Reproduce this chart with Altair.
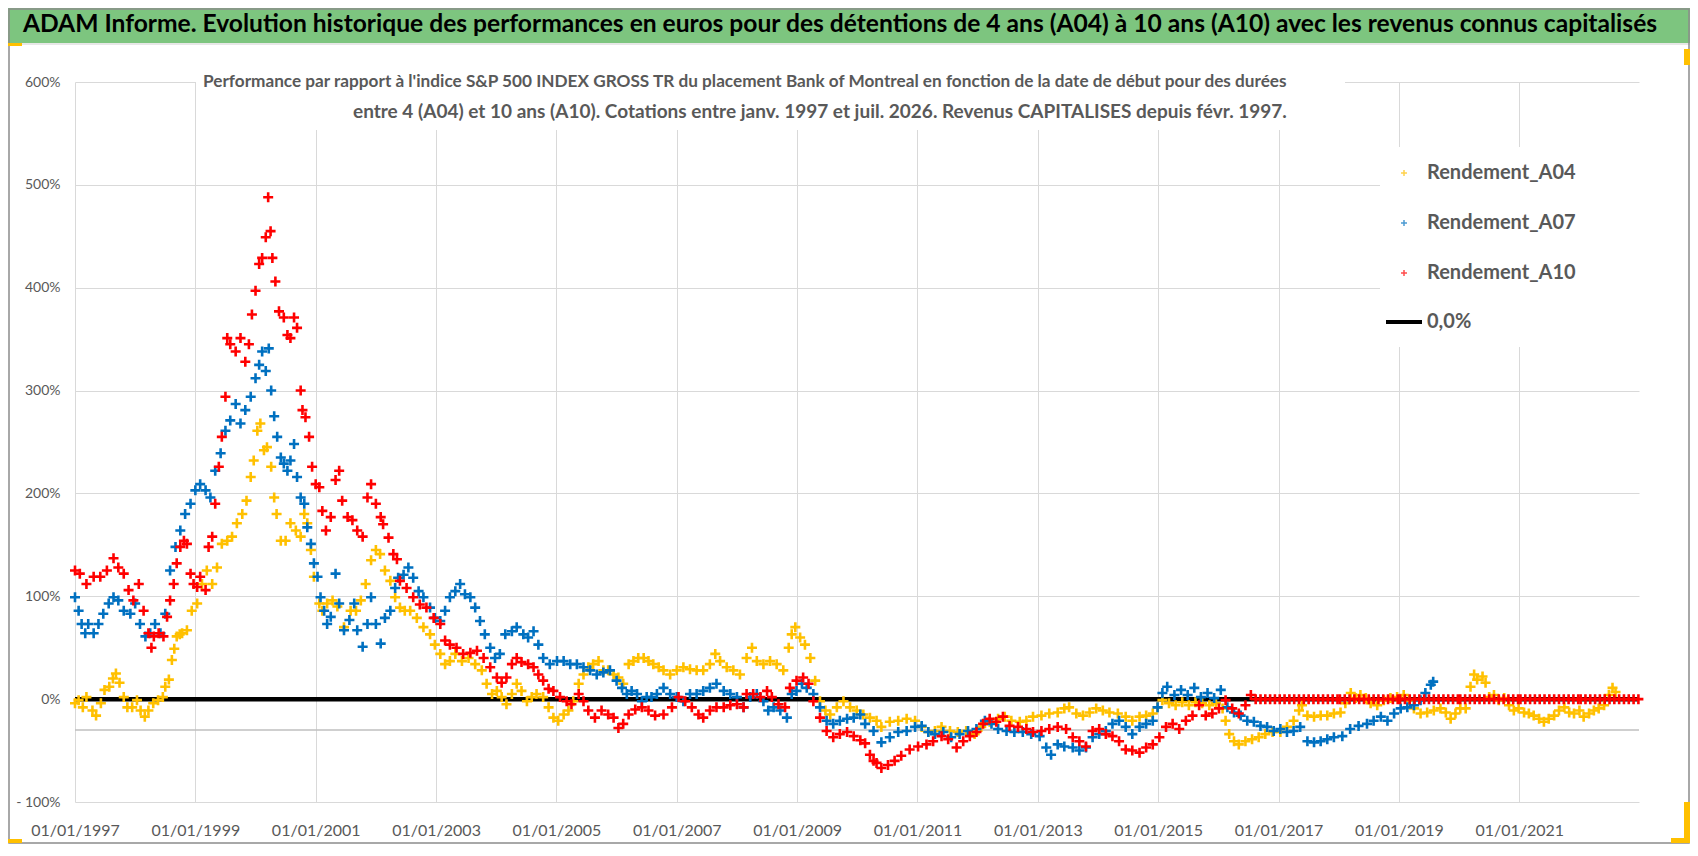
import pandas as pd
import altair as alt

# Valeurs : (année décimale, performance en %)
a04 = [(1997.00, -4), (1997.06, -1), (1997.13, -8), (1997.19, 2), (1997.29, -11), (1997.35, -16), (1997.43, -4),
       (1997.49, 9), (1997.57, 12), (1997.63, 20), (1997.68, 25), (1997.74, 16), (1997.81, 2), (1997.87, -8),
       (1997.95, -8), (1998.03, -1), (1998.09, -11), (1998.16, -17), (1998.22, -11), (1998.30, -4), (1998.38, -1),
       (1998.46, 2), (1998.50, 12), (1998.56, 19), (1998.61, 38), (1998.65, 49), (1998.69, 61), (1998.74, 63),
       (1998.78, 64), (1998.86, 67), (1998.94, 86), (1999.03, 93), (1999.11, 112), (1999.19, 125), (1999.28, 112),
       (1999.36, 128), (1999.44, 151), (1999.53, 154), (1999.61, 158), (1999.69, 171), (1999.78, 180), (1999.85, 193),
       (1999.92, 216), (1999.97, 232), (2000.03, 261), (2000.08, 268), (2000.14, 242), (2000.19, 245), (2000.26, 226),
       (2000.31, 196), (2000.35, 180), (2000.42, 154), (2000.50, 154), (2000.58, 171), (2000.67, 164), (2000.75, 158),
       (2000.81, 180), (2000.86, 171), (2000.92, 145), (2000.97, 119), (2001.06, 93), (2001.11, 86), (2001.19, 93),
       (2001.28, 96), (2001.36, 90), (2001.47, 70), (2001.58, 86), (2001.67, 86), (2001.75, 96), (2001.83, 112),
       (2001.92, 135), (2002.00, 145), (2002.07, 141), (2002.15, 125), (2002.24, 115), (2002.32, 99), (2002.40, 89),
       (2002.48, 86), (2002.57, 86), (2002.68, 79), (2002.79, 70), (2002.90, 63), (2002.98, 53), (2003.07, 44),
       (2003.15, 34), (2003.23, 37), (2003.32, 44), (2003.43, 37), (2003.54, 40), (2003.65, 34), (2003.76, 28),
       (2003.84, 15), (2003.93, 5), (2004.01, 8), (2004.09, 2), (2004.17, -5), (2004.26, 5), (2004.34, 15),
       (2004.42, 8), (2004.51, -2), (2004.59, 2), (2004.67, 5), (2004.78, 2), (2004.87, -8), (2004.95, -18),
       (2005.03, -21), (2005.12, -15), (2005.20, -11), (2005.28, -2), (2005.37, 15), (2005.45, 24), (2005.53, 31),
       (2005.61, 34), (2005.70, 37), (2005.78, 28), (2005.86, 28), (2005.95, 24), (2006.03, 21), (2006.11, 15),
       (2006.20, 34), (2006.28, 37), (2006.36, 40), (2006.45, 40), (2006.53, 37), (2006.61, 34), (2006.70, 31),
       (2006.78, 28), (2006.89, 24), (2007.00, 28), (2007.11, 31), (2007.22, 29), (2007.33, 28), (2007.44, 28),
       (2007.55, 34), (2007.64, 44), (2007.72, 37), (2007.83, 31), (2007.94, 28), (2008.05, 24), (2008.16, 40),
       (2008.25, 50), (2008.33, 37), (2008.44, 34), (2008.55, 37), (2008.66, 34), (2008.77, 28), (2008.86, 50),
       (2008.91, 63), (2008.97, 70), (2009.05, 60), (2009.13, 53), (2009.22, 40), (2009.30, 18), (2009.38, -2),
       (2009.47, -11), (2009.55, -15), (2009.66, -8), (2009.77, -2), (2009.88, -8), (2009.99, -11), (2010.10, -15),
       (2010.21, -18), (2010.32, -21), (2010.40, -27), (2010.54, -22), (2010.68, -21), (2010.82, -19), (2010.96, -21),
       (2011.07, -27), (2011.18, -32), (2011.29, -31), (2011.40, -27), (2011.54, -31), (2011.67, -32), (2011.81, -31),
       (2011.95, -34), (2012.06, -27), (2012.20, -22), (2012.34, -19), (2012.45, -17), (2012.56, -21), (2012.70, -22),
       (2012.81, -21), (2012.92, -17), (2013.06, -16), (2013.19, -14), (2013.33, -13), (2013.44, -9), (2013.52, -8),
       (2013.64, -14), (2013.75, -16), (2013.86, -13), (2013.97, -9), (2014.08, -11), (2014.19, -13), (2014.33, -14),
       (2014.46, -17), (2014.57, -21), (2014.69, -17), (2014.80, -16), (2014.91, -14), (2014.99, -8), (2015.07, -1),
       (2015.18, -4), (2015.29, -6), (2015.40, -3), (2015.51, -6), (2015.62, -3), (2015.73, -4), (2015.85, -6),
       (2015.96, -4), (2016.07, -9), (2016.12, -21), (2016.18, -34), (2016.26, -41), (2016.34, -44), (2016.45, -41),
       (2016.56, -39), (2016.67, -37), (2016.78, -34), (2016.90, -32), (2017.03, -32), (2017.14, -27), (2017.25, -21),
       (2017.34, -11), (2017.39, -6), (2017.48, -16), (2017.59, -17), (2017.70, -16), (2017.81, -16), (2017.92, -14),
       (2018.03, -13), (2018.11, -4), (2018.20, 6), (2018.28, 1), (2018.36, 4), (2018.45, 1), (2018.53, -4),
       (2018.64, -6), (2018.75, -1), (2018.86, 1), (2018.97, 2), (2019.08, 4), (2019.17, -1), (2019.25, -9),
       (2019.36, -14), (2019.47, -13), (2019.58, -11), (2019.69, -9), (2019.78, -13), (2019.86, -19), (2019.94, -14),
       (2020.02, -9), (2020.11, -9), (2020.19, 12), (2020.25, 24), (2020.30, 19), (2020.39, 22), (2020.44, 16),
       (2020.50, 2), (2020.58, 4), (2020.66, -1), (2020.75, 1), (2020.83, -6), (2020.91, -11), (2020.99, -9),
       (2021.08, -13), (2021.16, -14), (2021.24, -16), (2021.33, -19), (2021.41, -22), (2021.49, -19), (2021.58, -16),
       (2021.66, -11), (2021.75, -8), (2021.83, -13), (2021.91, -14), (2022.00, -11), (2022.07, -17), (2022.16, -14),
       (2022.24, -11), (2022.32, -9), (2022.41, -6), (2022.49, 4), (2022.55, 11), (2022.60, 7)]

a07 = [(1997.00, 99), (1997.06, 86), (1997.11, 73), (1997.17, 64), (1997.22, 73), (1997.31, 64), (1997.39, 73),
       (1997.47, 83), (1997.56, 93), (1997.64, 99), (1997.72, 96), (1997.81, 86), (1997.92, 83), (1998.00, 93),
       (1998.08, 73), (1998.17, 61), (1998.25, 64), (1998.33, 73), (1998.42, 64), (1998.50, 83), (1998.58, 125),
       (1998.67, 148), (1998.75, 164), (1998.83, 180), (1998.92, 190), (1999.00, 203), (1999.08, 209), (1999.17, 203),
       (1999.25, 196), (1999.33, 222), (1999.42, 239), (1999.50, 261), (1999.58, 271), (1999.67, 287), (1999.75, 268),
       (1999.83, 281), (1999.92, 294), (2000.00, 312), (2000.06, 325), (2000.11, 338), (2000.17, 319), (2000.22, 341),
       (2000.26, 300), (2000.31, 275), (2000.36, 255), (2000.42, 235), (2000.47, 229), (2000.53, 222), (2000.58, 232),
       (2000.64, 248), (2000.69, 216), (2000.75, 196), (2000.81, 190), (2000.86, 167), (2000.92, 151), (2000.97, 132),
       (2001.03, 119), (2001.08, 99), (2001.14, 86), (2001.19, 73), (2001.25, 80), (2001.33, 122), (2001.39, 93),
       (2001.47, 67), (2001.56, 77), (2001.64, 93), (2001.69, 67), (2001.78, 51), (2001.86, 73), (2001.92, 99),
       (2002.00, 73), (2002.08, 54), (2002.15, 79), (2002.24, 86), (2002.32, 108), (2002.37, 118), (2002.46, 121),
       (2002.54, 128), (2002.62, 118), (2002.71, 105), (2002.79, 99), (2002.90, 89), (2002.98, 79), (2003.07, 76),
       (2003.15, 86), (2003.23, 99), (2003.32, 105), (2003.40, 112), (2003.48, 102), (2003.57, 99), (2003.65, 89),
       (2003.73, 76), (2003.81, 63), (2003.90, 50), (2003.98, 40), (2004.06, 44), (2004.15, 63), (2004.26, 66),
       (2004.34, 70), (2004.45, 63), (2004.53, 60), (2004.62, 66), (2004.70, 53), (2004.78, 40), (2004.89, 34),
       (2005.01, 37), (2005.12, 37), (2005.23, 34), (2005.34, 34), (2005.45, 31), (2005.56, 28), (2005.67, 24),
       (2005.78, 26), (2005.89, 28), (2006.00, 18), (2006.09, 11), (2006.17, 5), (2006.25, 8), (2006.34, 5),
       (2006.42, -2), (2006.50, 2), (2006.58, 2), (2006.67, 5), (2006.78, 11), (2006.89, 5), (2007.00, 2),
       (2007.11, -2), (2007.22, 5), (2007.33, 5), (2007.44, 8), (2007.55, 11), (2007.66, 15), (2007.78, 8),
       (2007.89, 5), (2008.00, 2), (2008.11, -8), (2008.22, 2), (2008.33, 5), (2008.44, -2), (2008.52, -11),
       (2008.61, -8), (2008.72, -11), (2008.83, -18), (2008.91, 5), (2008.99, 8), (2009.08, 15), (2009.16, 11),
       (2009.27, 5), (2009.38, -8), (2009.49, -21), (2009.60, -24), (2009.71, -21), (2009.83, -19), (2009.94, -18),
       (2010.05, -15), (2010.13, -24), (2010.27, -31), (2010.40, -42), (2010.54, -37), (2010.68, -32), (2010.82, -31),
       (2010.96, -27), (2011.07, -26), (2011.18, -32), (2011.29, -34), (2011.43, -32), (2011.56, -37), (2011.70, -34),
       (2011.84, -31), (2011.98, -29), (2012.12, -21), (2012.23, -24), (2012.34, -29), (2012.48, -31), (2012.61, -32),
       (2012.75, -32), (2012.89, -34), (2013.03, -36), (2013.14, -47), (2013.22, -54), (2013.33, -44), (2013.44, -46),
       (2013.58, -47), (2013.69, -50), (2013.80, -47), (2013.91, -37), (2014.02, -34), (2014.13, -31), (2014.24, -24),
       (2014.35, -21), (2014.46, -27), (2014.57, -34), (2014.69, -27), (2014.80, -24), (2014.91, -21), (2014.99, -8),
       (2015.07, 6), (2015.15, 12), (2015.27, 4), (2015.38, 9), (2015.49, 4), (2015.60, 11), (2015.71, 2),
       (2015.82, 6), (2015.93, 1), (2016.04, 9), (2016.15, -8), (2016.26, -13), (2016.37, -16), (2016.48, -21),
       (2016.59, -22), (2016.70, -26), (2016.81, -27), (2016.92, -31), (2017.03, -29), (2017.14, -32), (2017.25, -31),
       (2017.36, -27), (2017.48, -41), (2017.59, -42), (2017.70, -41), (2017.81, -39), (2017.92, -37), (2018.06, -36),
       (2018.19, -29), (2018.33, -26), (2018.47, -24), (2018.58, -21), (2018.70, -17), (2018.81, -21), (2018.92, -14),
       (2019.03, -9), (2019.14, -8), (2019.25, -6), (2019.36, -1), (2019.44, 6), (2019.53, 14), (2019.57, 17)]

a10 = [(1997.00, 125), (1997.08, 122), (1997.19, 112), (1997.31, 119), (1997.42, 119), (1997.53, 125), (1997.64, 137),
       (1997.72, 128), (1997.81, 122), (1997.89, 106), (1997.97, 96), (1998.06, 112), (1998.14, 86), (1998.22, 64),
       (1998.27, 50), (1998.31, 61), (1998.39, 64), (1998.47, 61), (1998.53, 80), (1998.58, 96), (1998.64, 112),
       (1998.69, 132), (1998.75, 148), (1998.81, 154), (1998.86, 151), (1998.92, 122), (1998.97, 112), (1999.03, 109),
       (1999.08, 119), (1999.17, 106), (1999.22, 148), (1999.28, 158), (1999.33, 190), (1999.39, 226), (1999.44, 255),
       (1999.50, 294), (1999.53, 351), (1999.58, 345), (1999.67, 338), (1999.75, 351), (1999.83, 328), (1999.89, 345),
       (1999.94, 374), (2000.00, 397), (2000.06, 423), (2000.11, 429), (2000.17, 449), (2000.21, 488), (2000.25, 455),
       (2000.28, 429), (2000.33, 406), (2000.39, 377), (2000.47, 371), (2000.53, 354), (2000.58, 351), (2000.64, 371),
       (2000.69, 361), (2000.75, 300), (2000.78, 281), (2000.83, 274), (2000.89, 255), (2000.94, 226), (2001.00, 209),
       (2001.06, 206), (2001.11, 183), (2001.17, 164), (2001.25, 177), (2001.33, 213), (2001.39, 222), (2001.44, 193),
       (2001.53, 177), (2001.61, 174), (2001.69, 164), (2001.78, 158), (2001.86, 196), (2001.92, 209), (2002.00, 190),
       (2002.08, 177), (2002.12, 170), (2002.21, 157), (2002.29, 141), (2002.35, 136), (2002.40, 115), (2002.51, 108),
       (2002.62, 99), (2002.73, 92), (2002.84, 89), (2002.96, 79), (2003.07, 73), (2003.15, 57), (2003.23, 53),
       (2003.34, 50), (2003.45, 44), (2003.57, 45), (2003.68, 47), (2003.79, 40), (2003.90, 31), (2004.01, 21),
       (2004.09, 16), (2004.17, 21), (2004.26, 34), (2004.34, 40), (2004.42, 36), (2004.53, 34), (2004.62, 31),
       (2004.70, 24), (2004.78, 18), (2004.87, 10), (2004.95, 8), (2005.06, 2), (2005.17, -2), (2005.25, -5),
       (2005.37, 5), (2005.45, -2), (2005.53, -11), (2005.64, -18), (2005.75, -11), (2005.86, -15), (2005.95, -18),
       (2006.03, -28), (2006.11, -24), (2006.20, -15), (2006.31, -10), (2006.42, -8), (2006.53, -11), (2006.64, -16),
       (2006.78, -15), (2006.92, -8), (2007.03, 2), (2007.14, -2), (2007.25, -8), (2007.36, -15), (2007.44, -18),
       (2007.55, -11), (2007.66, -8), (2007.78, -8), (2007.89, -6), (2008.00, -5), (2008.11, -8), (2008.16, 5),
       (2008.27, 5), (2008.39, 2), (2008.50, 8), (2008.58, 2), (2008.69, -5), (2008.80, -8), (2008.88, 11),
       (2008.99, 18), (2009.10, 21), (2009.19, 15), (2009.27, -2), (2009.38, -18), (2009.49, -31), (2009.60, -37),
       (2009.71, -34), (2009.83, -32), (2009.94, -36), (2010.05, -40), (2010.13, -43), (2010.21, -54), (2010.27, -60),
       (2010.32, -62), (2010.40, -67), (2010.51, -64), (2010.62, -60), (2010.73, -55), (2010.87, -49), (2011.01, -46),
       (2011.15, -44), (2011.26, -41), (2011.40, -36), (2011.51, -39), (2011.65, -47), (2011.76, -41), (2011.87, -36),
       (2011.98, -32), (2012.09, -24), (2012.20, -19), (2012.31, -22), (2012.42, -17), (2012.53, -26), (2012.67, -27),
       (2012.81, -29), (2012.92, -32), (2013.06, -31), (2013.19, -29), (2013.33, -27), (2013.47, -29), (2013.58, -37),
       (2013.69, -41), (2013.80, -46), (2013.91, -31), (2014.02, -29), (2014.13, -34), (2014.24, -36), (2014.35, -41),
       (2014.46, -49), (2014.57, -50), (2014.69, -52), (2014.80, -47), (2014.91, -44), (2015.02, -37), (2015.13, -27),
       (2015.24, -24), (2015.35, -29), (2015.46, -21), (2015.57, -16), (2015.68, -6), (2015.79, -16), (2015.90, -14),
       (2016.01, -9), (2016.12, -1), (2016.23, -9), (2016.34, -14), (2016.45, -6), (2016.54, 4),
       (2016.62, 0), (2016.70, 0), (2016.78, 0), (2016.86, 0), (2016.94, 0),
       (2017.02, 0), (2017.10, 0), (2017.18, 0), (2017.26, 0), (2017.34, 0), (2017.42, 0), (2017.50, 0),
       (2017.58, 0), (2017.66, 0), (2017.74, 0), (2017.82, 0), (2017.90, 0), (2017.98, 0),
       (2018.02, 0), (2018.10, 0), (2018.18, 0), (2018.26, 0), (2018.34, 0), (2018.42, 0), (2018.50, 0),
       (2018.58, 0), (2018.66, 0), (2018.74, 0), (2018.82, 0), (2018.90, 0), (2018.98, 0),
       (2019.02, 0), (2019.10, 0), (2019.18, 0), (2019.26, 0), (2019.34, 0), (2019.42, 0), (2019.50, 0),
       (2019.58, 0), (2019.66, 0), (2019.74, 0), (2019.82, 0), (2019.90, 0), (2019.98, 0),
       (2020.02, 0), (2020.10, 0), (2020.18, 0), (2020.26, 0), (2020.34, 0), (2020.42, 0), (2020.50, 0),
       (2020.58, 0), (2020.66, 0), (2020.74, 0), (2020.82, 0), (2020.90, 0), (2020.98, 0),
       (2021.02, 0), (2021.10, 0), (2021.18, 0), (2021.26, 0), (2021.34, 0), (2021.42, 0), (2021.50, 0),
       (2021.58, 0), (2021.66, 0), (2021.74, 0), (2021.82, 0), (2021.90, 0), (2021.98, 0),
       (2022.02, 0), (2022.10, 0), (2022.18, 0), (2022.26, 0), (2022.34, 0), (2022.42, 0), (2022.50, 0),
       (2022.58, 0), (2022.66, 0), (2022.74, 0), (2022.82, 0), (2022.90, 0), (2022.98, 0)]

zero_line = [(1997.0, 0), (2022.99, 0)]
axis_cross = [(1997.0, -30), (2022.99, -30)]

x_ticks = [1997, 1999, 2001, 2003, 2005, 2007, 2009, 2011, 2013, 2015, 2017, 2019, 2021]
y_ticks = [-100, 0, 100, 200, 300, 400, 500, 600]

series = ["Rendement_A04", "Rendement_A07", "Rendement_A10"]
colors = ["#FFC000", "#0070C0", "#FF0000"]

title = ("ADAM Informe. Evolution historique des performances en euros pour des détentions "
         "de 4 ans (A04) à 10 ans (A10) avec les revenus connus capitalisés")
sub1 = ("Performance par rapport à l'indice S&P 500 INDEX GROSS TR  du placement Bank of Montreal "
        "en fonction de la date de début pour des durées")
sub2 = ("entre 4 (A04) et 10 ans (A10).  Cotations entre janv. 1997 et juil. 2026. "
        "Revenus CAPITALISES depuis févr. 1997.")

W, H = 1564, 720
plus = "M-1,0H1M0,-1V1"
one = pd.DataFrame({"k": [0]})

x_enc = alt.X("annee:Q", scale=alt.Scale(domain=[1997, 2022.99], nice=False, zero=False),
              axis=alt.Axis(values=x_ticks, labelExpr="'01/01/' + datum.value", title=None,
                            labelPadding=20, labelFontSize=16, labelOverlap=False, labelFlush=False))
y_enc = alt.Y("perf:Q", scale=alt.Scale(domain=[-100, 600], nice=False),
              axis=alt.Axis(values=y_ticks, title=None, labelPadding=15, labelFontSize=14,
                            labelExpr="datum.value < 0 ? '- ' + (-datum.value) + '%' : datum.value + '%'"))


def df_of(rows):
    return pd.DataFrame(rows, columns=["annee", "perf"])


def box(x1, x2, y1, y2, **kw):
    return alt.Chart(one).mark_rect(**kw).encode(
        x=alt.value(x1), x2=alt.value(x2), y=alt.value(y1), y2=alt.value(y2))


def label(txt, x, y, **kw):
    return alt.Chart(one).mark_text(text=txt, font="Lato", baseline="middle", **kw).encode(
        x=alt.value(x), y=alt.value(y))


cross_line = alt.Chart(df_of(axis_cross)).mark_line(color="#BFBFBF", strokeWidth=1.5).encode(x_enc, y_enc)
black_line = alt.Chart(df_of(zero_line)).mark_line(color="black", strokeWidth=4.5).encode(x_enc, y_enc)

points = []
for rows, col in zip([a04, a07, a10], colors):
    points.append(alt.Chart(df_of(rows)).mark_point(
        shape=plus, filled=False, color=col, strokeWidth=2.6, size=100, opacity=1
    ).encode(x_enc, y_enc))

# decor: bandeau, cadres, sous-titre, légende (coordonnées relatives à la zone de tracé)
deco = [
    box(-67, 1615, -74, -39, color="#7DC57F"),
    box(-67, 1615, -38.5, -37.5, color="#D0D0D0"),
    box(-66, 1614, -73, 761, fillOpacity=0, stroke="#8C8C8C", strokeWidth=1.5),
    box(-67, -53, -39, -36, color="#FFC000"),
    box(-67, -53, 757, 761, color="#FFC000"),
    box(1609, 1615, -33, -17, color="#FFC000"),
    box(1609, 1615, 720, 761, color="#FFC000"),
    box(1596, 1615, 756, 761, color="#FFC000"),
    box(121, 1270, 0, 48, color="white"),
    box(1305, 1565, 65, 265, color="white"),
    label(title, 765, -57, align="center", fontSize=24.6, fontWeight="bold", color="black"),
    label(sub1, 128, 0, align="left", fontSize=17.2, fontWeight="bold", color="#595959"),
    label(sub2, 278, 30, align="left", fontSize=19, fontWeight="bold", color="#595959"),
]

legend = []
for i, (name, col) in enumerate(zip(series, colors)):
    yy = 91 + i * 50
    legend.append(alt.Chart(one).mark_point(shape=plus, filled=False, color=col, strokeWidth=1.5, size=36)
                  .encode(x=alt.value(1329), y=alt.value(yy)))
    legend.append(label(name, 1352, yy, align="left", fontSize=20, fontWeight="bold", color="#595959"))
legend.append(alt.Chart(one).mark_rule(color="black", strokeWidth=4)
              .encode(x=alt.value(1311), x2=alt.value(1347), y=alt.value(240)))
legend.append(label("0,0%", 1352, 240, align="left", fontSize=20, fontWeight="bold", color="#595959"))

chart = alt.layer(cross_line, black_line, *points, *deco, *legend).properties(
    width=W, height=H,
    padding={"left": 67, "top": 74, "right": 51, "bottom": 42},
    autosize=alt.AutoSizeParams(type="none"),
    background="white",
).configure_view(stroke=None).configure_axis(
    grid=True, gridColor="#D9D9D9", gridWidth=1, domain=False, ticks=False,
    labelColor="#595959", labelFont="Lato"
)

chart.save("out.html", embed_options={"renderer": "svg", "actions": False})
